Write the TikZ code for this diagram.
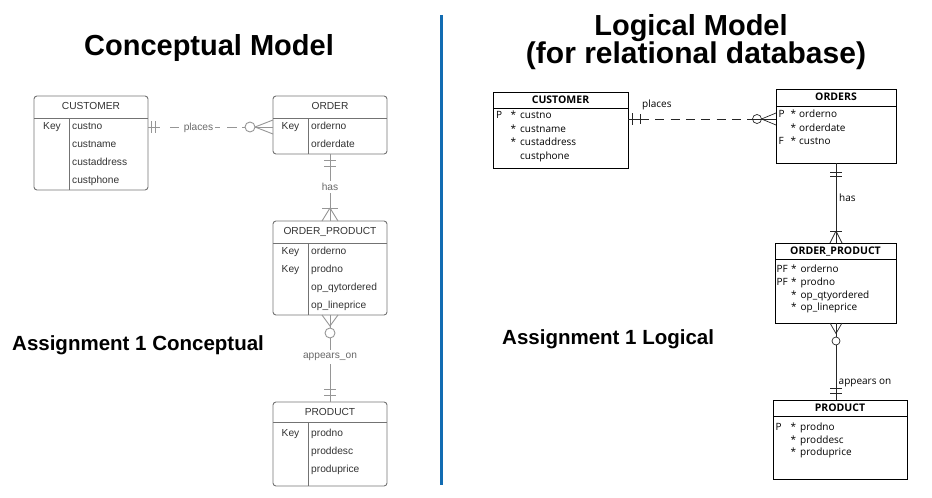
\documentclass[tikz,border=0pt]{standalone}
\usepackage{fontspec}
\setmainfont{Liberation Sans}
\newfontfamily\lgfont{Open Sans}
\usetikzlibrary{calc}
\definecolor{divblue}{RGB}{18,108,178}
\definecolor{cgray}{RGB}{115,115,115}
\definecolor{cline}{RGB}{150,150,150}
\definecolor{ctext}{RGB}{50,50,50}
\definecolor{clab}{RGB}{105,105,105}
\begin{document}
\begin{tikzpicture}[x=1pt,y=-1pt,
 title/.style={font=\fontsize{29}{33}\selectfont\bfseries, inner sep=0pt, anchor=base},
 sub/.style={font=\fontsize{20.5}{24}\selectfont\bfseries, inner sep=0pt, anchor=base west},
 lbox/.style={draw=cgray, line width=0.9pt, rounded corners=3pt, inner sep=0pt},
 lsep/.style={draw=cgray, line width=0.9pt},
 ltxt/.style={font=\fontsize{10.2}{12}\selectfont, text=ctext, inner sep=0pt},
 lhead/.style={ltxt, anchor=base},
 lrow/.style={ltxt, anchor=base west},
 lconn/.style={draw=cline, line width=0.9pt},
 llab/.style={ltxt, text=clab, anchor=base},
 rbox/.style={draw=black, line width=0.6pt, inner sep=0pt},
 rsep/.style={draw=black, line width=0.6pt},
 rtxt/.style={font=\lgfont\fontsize{10}{12}\selectfont, inner sep=0pt},
 rhead/.style={font=\lgfont\fontsize{10.5}{12}\selectfont\bfseries, inner sep=0pt, anchor=base},
 rrow/.style={rtxt, anchor=base west},
 rstar/.style={rtxt, anchor=base},
 rconn/.style={draw=black!85, line width=0.7pt},
 rlab/.style={rtxt, anchor=base west},
]
\useasboundingbox (0,0) rectangle (932,498);

% titles
\node[title] (t1) at (209,55) {Conceptual Model};
\node[title] (t2) at (691,35) {Logical Model};
\node[title, font=\fontsize{30}{34}\selectfont\bfseries] (t3) at (696,63) {(for relational database)};
\coordinate (dtop) at (441.5,15);
\coordinate (dbot) at (441.5,485);
\draw[divblue, line width=3pt] (dtop) -- (dbot);
\node[sub] (s1) at (12,350) {Assignment 1 Conceptual};
\node[sub] (s2) at (502,344) {Assignment 1 Logical};

% ================= LEFT: conceptual =================
% CUSTOMER
\node[lbox, minimum width=114pt, minimum height=94pt] (lcu) at (91,143) {};
\draw[lsep] (34,118) -- (148,118) (69,118) -- (69,190);
\node[lhead] (lcuh) at (91,109.7) {CUSTOMER};
\node[lhead] (lcuk) at (52,129.7) {Key};
\node[lrow] (lcu1) at (72,129.7) {custno};
\node[lrow] (lcu2) at (72,147.7) {custname};
\node[lrow] (lcu3) at (72,165.7) {custaddress};
\node[lrow] (lcu4) at (72,183.7) {custphone};
% ORDER
\node[lbox, minimum width=114pt, minimum height=58pt] (lor) at (330,125) {};
\draw[lsep] (273,118) -- (387,118) (308,118) -- (308,154);
\node[lhead] (lorh) at (330,109.7) {ORDER};
\node[lhead] (lork) at (290.5,129.7) {Key};
\node[lrow] (lor1) at (311,129.7) {orderno};
\node[lrow] (lor2) at (311,147.7) {orderdate};
% ORDER_PRODUCT
\node[lbox, minimum width=114pt, minimum height=94pt] (lop) at (330,268) {};
\draw[lsep] (273,243) -- (387,243) (308,243) -- (308,315);
\node[lhead] (loph) at (330,234.7) {ORDER\_PRODUCT};
\node[lhead] (lopk1) at (290.5,254.7) {Key};
\node[lhead] (lopk2) at (290.5,272.7) {Key};
\node[lrow] (lop1) at (311,254.7) {orderno};
\node[lrow] (lop2) at (311,272.7) {prodno};
\node[lrow] (lop3) at (311,290.7) {op\_qytordered};
\node[lrow] (lop4) at (311,308.7) {op\_lineprice};
% PRODUCT
\node[lbox, minimum width=114pt, minimum height=84pt] (lpr) at (330,444) {};
\draw[lsep] (273,422) -- (387,422) (308,422) -- (308,486);
\node[lhead] (lprh) at (330,415.7) {PRODUCT};
\node[lhead] (lprk) at (290.5,436.5) {Key};
\node[lrow] (lpr1) at (311,436.5) {prodno};
\node[lrow] (lpr2) at (311,454.5) {proddesc};
\node[lrow] (lpr3) at (311,472) {produprice};

% connector CUSTOMER -- ORDER (places)
\coordinate (la1) at (148,127);
\coordinate (la2) at (273,127);
\draw[lconn, dash pattern=on 12pt off 10pt on 9pt off 36pt on 5pt off 7pt on 10pt off 5pt on 3pt off 10pt on 18pt] (la1) -- (la2);
\draw[lconn] (151,121) -- (151,133) (155,121) -- (155,133);
\draw[lconn] (250,127) circle (5pt);
\draw[lconn] (255,127) -- (273,120) (255,127) -- (273,134);
\node[llab] (llplaces) at (198.5,130.5) {places};

% connector ORDER -- ORDER_PRODUCT (has)
\coordinate (lb1) at (330,154);
\coordinate (lb2) at (330,221);
\draw[lconn] (lb1) -- (lb2);
\draw[lconn] (324,160) -- (336,160) (324,166) -- (336,166);
\draw[lconn] (322,208) -- (338,208);
\draw[lconn] (330,208) -- (322,221) (330,208) -- (338,221);
\node[llab, fill=white, inner xsep=2pt, inner ysep=2pt, anchor=center] (llhas) at (330,187) {has};

% connector ORDER_PRODUCT -- PRODUCT (appears_on)
\coordinate (lc1) at (330,315);
\coordinate (lc2) at (330,402);
\draw[lconn] (lc1) -- (330,328) (330,338) -- (lc2);
\draw[lconn] (322,315) -- (330,326) -- (338,315);
\draw[lconn] (330,333) circle (5pt);
\draw[lconn] (324,389) -- (336,389) (324,395) -- (336,395);
\node[llab, fill=white, inner xsep=2pt, inner ysep=3pt, anchor=center] (llapp) at (330,357) {appears\_on};

% ================= RIGHT: logical =================
% CUSTOMER
\node[rbox, minimum width=135pt, minimum height=76pt] (rcu) at (560.5,130) {};
\draw[rsep] (493,108) -- (628,108);
\node[rhead] (rcuh) at (560.5,103.8) {CUSTOMER};
\node[rrow] (rcup) at (496,118.5) {P};
\node[rstar] (rcus1) at (513.5,118.5) {*};
\node[rstar] (rcus2) at (513.5,132) {*};
\node[rstar] (rcus3) at (513.5,145.5) {*};
\node[rrow] (rcu1) at (520,118.5) {custno};
\node[rrow] (rcu2) at (520,132) {custname};
\node[rrow] (rcu3) at (520,145.5) {custaddress};
\node[rrow] (rcu4) at (520,159) {custphone};
% ORDERS
\node[rbox, minimum width=120pt, minimum height=74pt] (ror) at (836,126) {};
\draw[rsep] (776,106) -- (896,106);
\node[rhead] (rorh) at (836,100.8) {ORDERS};
\node[rrow] (rorp) at (778.5,117.5) {P};
\node[rrow] (rorf) at (778.5,144.5) {F};
\node[rstar] (rors1) at (793.5,117.5) {*};
\node[rstar] (rors2) at (793.5,131) {*};
\node[rstar] (rors3) at (793.5,144.5) {*};
\node[rrow] (ror1) at (799,117.5) {orderno};
\node[rrow] (ror2) at (799,131) {orderdate};
\node[rrow] (ror3) at (799,144.5) {custno};
% ORDER_PRODUCT
\node[rbox, minimum width=121pt, minimum height=80pt] (rop) at (835.5,283) {};
\draw[rsep] (775,259) -- (896,259);
\node[rhead] (roph) at (835.5,254.8) {ORDER\_PRODUCT};
\node[rrow] (ropk1) at (776.5,272.5) {PF};
\node[rrow] (ropk2) at (776.5,285.3) {PF};
\node[rstar] (rops1) at (794,272.5) {*};
\node[rstar] (rops2) at (794,285.3) {*};
\node[rstar] (rops3) at (794,298.1) {*};
\node[rstar] (rops4) at (794,310.9) {*};
\node[rrow] (rop1) at (800.5,272.5) {orderno};
\node[rrow] (rop2) at (800.5,285.3) {prodno};
\node[rrow] (rop3) at (800.5,298.1) {op\_qtyordered};
\node[rrow] (rop4) at (800.5,310.9) {op\_lineprice};
% PRODUCT
\node[rbox, minimum width=134pt, minimum height=79pt] (rpr) at (840,439.5) {};
\draw[rsep] (773,416) -- (907,416);
\node[rhead] (rprh) at (840,411.8) {PRODUCT};
\node[rrow] (rprp) at (775.5,430.5) {P};
\node[rstar] (rprs1) at (793.5,430.5) {*};
\node[rstar] (rprs2) at (793.5,443) {*};
\node[rstar] (rprs3) at (793.5,455.5) {*};
\node[rrow] (rpr1) at (800,430.5) {prodno};
\node[rrow] (rpr2) at (800,443) {proddesc};
\node[rrow] (rpr3) at (800,455.5) {produprice};

% connector CUSTOMER -- ORDERS (places)
\coordinate (ra1) at (628,119);
\coordinate (ra2) at (776,119);
\draw[rconn] (ra1) -- (640,119);
\draw[rconn, dash pattern=on 9pt off 6.3pt] (640,119) -- (752.5,119);
\draw[rconn] (752.5,119) -- (ra2);
\draw[rconn] (632,113) -- (632,125) (640,114) -- (640,124);
\draw[rconn] (757,119) circle (4.5pt);
\draw[rconn] (761.5,119) -- (776,113) (761.5,119) -- (776,125);
\node[rlab] (rlplaces) at (642,107.5) {places};

% connector ORDERS -- ORDER_PRODUCT (has)
\coordinate (rb1) at (836,163);
\coordinate (rb2) at (836,243);
\draw[rconn] (rb1) -- (rb2);
\draw[rconn] (830,172) -- (842,172) (830,176.5) -- (842,176.5);
\draw[rconn] (830,231) -- (842,231);
\draw[rconn] (836,231) -- (830,243) (836,231) -- (842,243);
\node[rlab] (rlhas) at (839,201) {has};

% connector ORDER_PRODUCT -- PRODUCT (appears on)
\coordinate (rc1) at (836,323);
\coordinate (rc2) at (836,400);
\draw[rconn] (rc1) -- (836,337) (836,345) -- (rc2);
\draw[rconn] (830,323) -- (836,333.5) -- (842,323);
\draw[rconn] (836,341) circle (4pt);
\draw[rconn] (830,388) -- (842,388) (830,393) -- (842,393);
\node[rlab] (rlapp) at (838.5,384) {appears on};
\end{tikzpicture}
\end{document}
